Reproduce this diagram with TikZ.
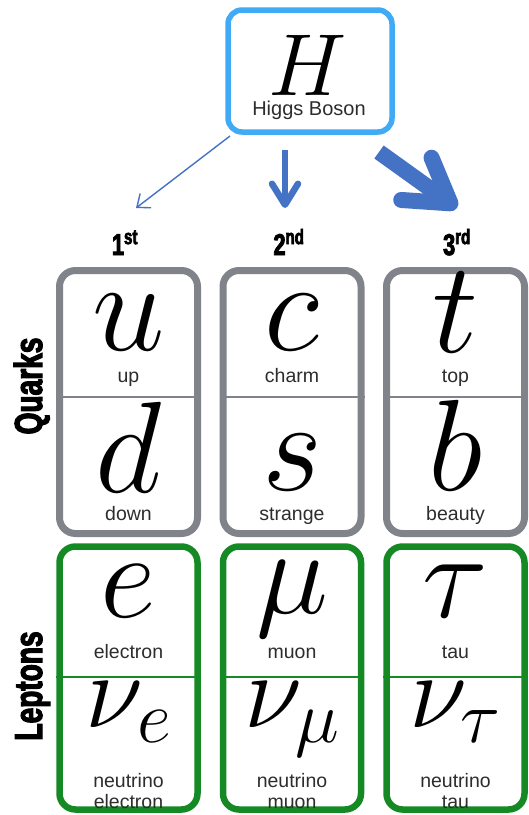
\RequirePackage{fix-cm}
\documentclass[tikz,border=0pt]{standalone}
\usepackage{fontspec}
\setsansfont{Liberation Sans}
\newfontfamily\headfont[FakeStretch=0.72,FakeBold=3]{Liberation Sans}
\usetikzlibrary{arrows.meta, positioning}
\definecolor{higgsblue}{RGB}{64,170,245}
\definecolor{arrblue}{RGB}{68,114,196}
\definecolor{quarkgray}{RGB}{128,131,138}
\definecolor{leptongreen}{RGB}{20,137,36}
\definecolor{txtdark}{RGB}{45,45,45}
\tikzset{
  higgsbox/.style={rectangle, draw=higgsblue, line width=5.5pt,
    rounded corners=14pt, minimum width=164pt, minimum height=122pt},
  quarkbox/.style={rectangle, draw=quarkgray, line width=7pt,
    rounded corners=16pt, minimum width=138pt, minimum height=263pt},
  leptonbox/.style={rectangle, draw=leptongreen, line width=6.5pt,
    rounded corners=16pt, minimum width=138pt, minimum height=263pt},
  sym/.style={anchor=base, inner sep=0pt, font=\fontsize{130}{130}\selectfont},
  lsym/.style={anchor=base, inner sep=0pt, font=\fontsize{122}{122}\selectfont},
  nusym/.style={anchor=base, inner sep=0pt, font=\fontsize{106}{106}\selectfont},
  partname/.style={anchor=base, inner sep=0pt, align=center, text=txtdark,
    font=\sffamily\fontsize{19.5}{21}\selectfont},
  genlabel/.style={anchor=base, inner sep=0pt, font=\headfont\bfseries\fontsize{30}{30}\selectfont},
  famlabel/.style={anchor=base, inner sep=0pt, rotate=90,
    font=\headfont\bfseries\fontsize{39}{39}\selectfont},
  qsplit/.style={draw=quarkgray, line width=1.2pt},
  lsplit/.style={draw=leptongreen, line width=1.4pt},
  thinarrow/.style={-{Straight Barb[length=11pt,width=18pt]}, line width=1.4pt, draw=arrblue},
  midarrow/.style={-{Straight Barb[length=21pt,width=26pt,round]}, line width=6.5pt, draw=arrblue},
  fatarrow/.style={-{Straight Barb[length=42pt,width=52pt,round]}, line width=16pt, draw=arrblue}
}

\begin{document}
\begin{tikzpicture}[x=1pt, y=-1pt]
  \path[fill=white] (0,0) rectangle (528,815);

  % Higgs
  \node[higgsbox] (higgs) at (310,71) {};
  \node[sym, font=\fontsize{88}{88}\selectfont] (hsym) at (308,95) {$H$};
  \node[partname, font=\sffamily\fontsize{20}{21}\selectfont] (hname) at (309,115) {Higgs Boson};

  % Arrows to the generations
  \coordinate (a1s) at (230,136);
  \coordinate (a1e) at (136,208);
  \coordinate (a2s) at (285,150);
  \coordinate (a2e) at (285,208);
  \coordinate (a3s) at (379,152);
  \coordinate (a3e) at (457,208);
  \draw[thinarrow] (a1s) -- (a1e);
  \draw[midarrow] (a2s) -- (a2e);
  \draw[fatarrow] (a3s) -- (a3e);

  % Generations
  \node[genlabel] (gen1) at (125,255) {1\textsuperscript{st}};
  \node[genlabel] (gen2) at (289,255) {2\textsuperscript{nd}};
  \node[genlabel] (gen3) at (457,255) {3\textsuperscript{rd}};

  % Family labels
  \node[famlabel] (quarks) at (42,386) {Quarks};
  \node[famlabel] (leptons) at (42,686) {Leptons};

  % Quark boxes
  \node[quarkbox] (q1) at (128.5,402) {};
  \node[quarkbox] (q2) at (292,402) {};
  \node[quarkbox] (q3) at (455.5,402) {};
  \draw[qsplit] (q1.west |- 0,397) -- (q1.east |- 0,397);
  \draw[qsplit] (q2.west |- 0,397) -- (q2.east |- 0,397);
  \draw[qsplit] (q3.west |- 0,397) -- (q3.east |- 0,397);

  \node[sym] (up) at (128.5,350) {$u$};
  \node[partname] (upname) at (128.5,382) {up};
  \node[sym] (charm) at (292,350) {$c$};
  \node[partname] (charmname) at (292,382) {charm};
  \node[sym] (top) at (455.5,352) {$t$};
  \node[partname] (topname) at (455.5,382) {top};

  \node[sym] (down) at (128.5,492) {$d$};
  \node[partname] (downname) at (128.5,520) {down};
  \node[sym] (strange) at (292,490) {$s$};
  \node[partname] (strangename) at (292,520) {strange};
  \node[sym] (beauty) at (455.5,490) {$b$};
  \node[partname] (beautyname) at (455.5,520) {beauty};

  % Lepton boxes
  \node[leptonbox] (l1) at (128.5,678) {};
  \node[leptonbox] (l2) at (292,678) {};
  \node[leptonbox] (l3) at (455.5,678) {};
  \draw[lsplit] (l1.west |- 0,677) -- (l1.east |- 0,677);
  \draw[lsplit] (l2.west |- 0,677) -- (l2.east |- 0,677);
  \draw[lsplit] (l3.west |- 0,677) -- (l3.east |- 0,677);

  \node[lsym] (elec) at (128.5,617) {$e$};
  \node[partname] (elecname) at (128.5,658) {electron};
  \node[lsym] (muon) at (292,613) {$\mu$};
  \node[partname] (muonname) at (292,658) {muon};
  \node[lsym] (tau) at (455.5,617) {$\tau$};
  \node[partname] (tauname) at (455.5,658) {tau};

  \node[nusym] (nue) at (128.5,727) {$\nu_e$};
  \node[partname] (nuename) at (128.5,808) {neutrino\\electron};
  \node[nusym] (numu) at (292,727) {$\nu_\mu$};
  \node[partname] (numuname) at (292,808) {neutrino\\muon};
  \node[nusym] (nutau) at (455.5,727) {$\nu_\tau$};
  \node[partname] (nutauname) at (455.5,808) {neutrino\\tau};
\end{tikzpicture}
\end{document}
